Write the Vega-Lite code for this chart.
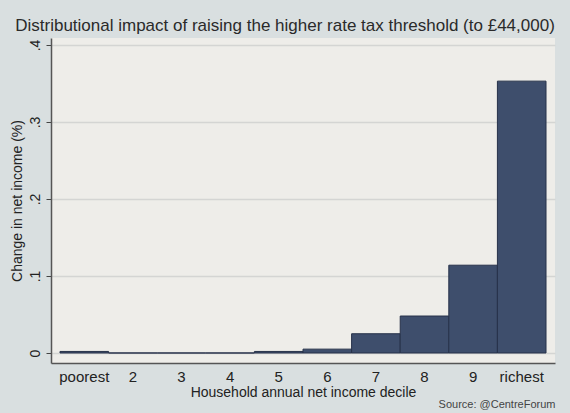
{
  "$schema": "https://vega.github.io/schema/vega-lite/v6.json",
  "width": 504,
  "height": 325,
  "autosize": {"type": "none"},
  "padding": {"left": 51, "top": 38, "right": 15, "bottom": 50},
  "background": "#d9dfe0",
  "title": {
    "text": "Distributional impact of raising the higher rate tax threshold (to £44,000)",
    "anchor": "middle",
    "dx": -18,
    "offset": 3,
    "fontSize": 17,
    "font": "Liberation Sans",
    "fontWeight": "normal",
    "color": "#2a2a2a"
  },
  "config": {
    "view": {"fill": "#eeede9", "stroke": null},
    "font": "Liberation Sans"
  },
  "data": {
    "values": [
      {"decile": "poorest", "change": 0.002},
      {"decile": "2", "change": 0},
      {"decile": "3", "change": 0},
      {"decile": "4", "change": 0},
      {"decile": "5", "change": 0.002},
      {"decile": "6", "change": 0.005},
      {"decile": "7", "change": 0.025},
      {"decile": "8", "change": 0.048},
      {"decile": "9", "change": 0.114},
      {"decile": "richest", "change": 0.353}
    ]
  },
  "layer": [
    {
      "mark": {"type": "bar", "fill": "#3e4e6c", "stroke": "#27324a", "strokeWidth": 1},
      "encoding": {
        "x": {
          "field": "decile",
          "type": "nominal",
          "sort": null,
          "scale": {"paddingInner": 0, "paddingOuter": 0.185},
          "axis": {
            "orient": "bottom",
            "title": "Household annual net income decile",
            "labelAngle": 0,
            "labelFontSize": 15,
            "labelColor": "#222",
            "titleFontSize": 14,
            "titleFontWeight": "normal",
            "titleColor": "#222",
            "ticks": false,
            "domainColor": "#555",
            "domainWidth": 1.5,
            "labelPadding": 6,
            "titlePadding": 1
          }
        },
        "y": {
          "field": "change",
          "type": "quantitative",
          "scale": {"domain": [-0.013, 0.409], "nice": false, "zero": false},
          "axis": {
            "title": "Change in net income (%)",
            "values": [0, 0.1, 0.2, 0.3, 0.4],
            "labelExpr": "datum.value == 0 ? '0' : replace(format(datum.value, '.1f'), '0.', '.')",
            "labelAngle": 270,
            "labelAlign": "center",
            "labelBaseline": "bottom",
            "labelFontSize": 14,
            "labelColor": "#222",
            "labelPadding": 4,
            "tickSize": 5,
            "tickColor": "#444",
            "domainColor": "#555",
            "domainWidth": 1.5,
            "grid": true,
            "gridColor": "#d4d5d3",
            "gridWidth": 1.5,
            "titleFontSize": 14,
            "titleFontWeight": "normal",
            "titleColor": "#222",
            "titlePadding": 4
          }
        },
        "y2": {"datum": 0}
      }
    },
    {
      "mark": {"type": "tick", "opacity": 0},
      "encoding": {
        "x": {
          "field": "decile",
          "type": "nominal",
          "sort": null,
          "axis": {
            "orient": "bottom",
            "title": "Source: @CentreForum",
            "titleAnchor": "end",
            "titleFontSize": 11,
            "titleFontWeight": "normal",
            "titleColor": "#444",
            "labels": false,
            "ticks": false,
            "domain": false,
            "grid": false,
            "offset": 0,
            "titlePadding": 35
          }
        }
      }
    }
  ],
  "resolve": {"axis": {"x": "independent"}}
}
